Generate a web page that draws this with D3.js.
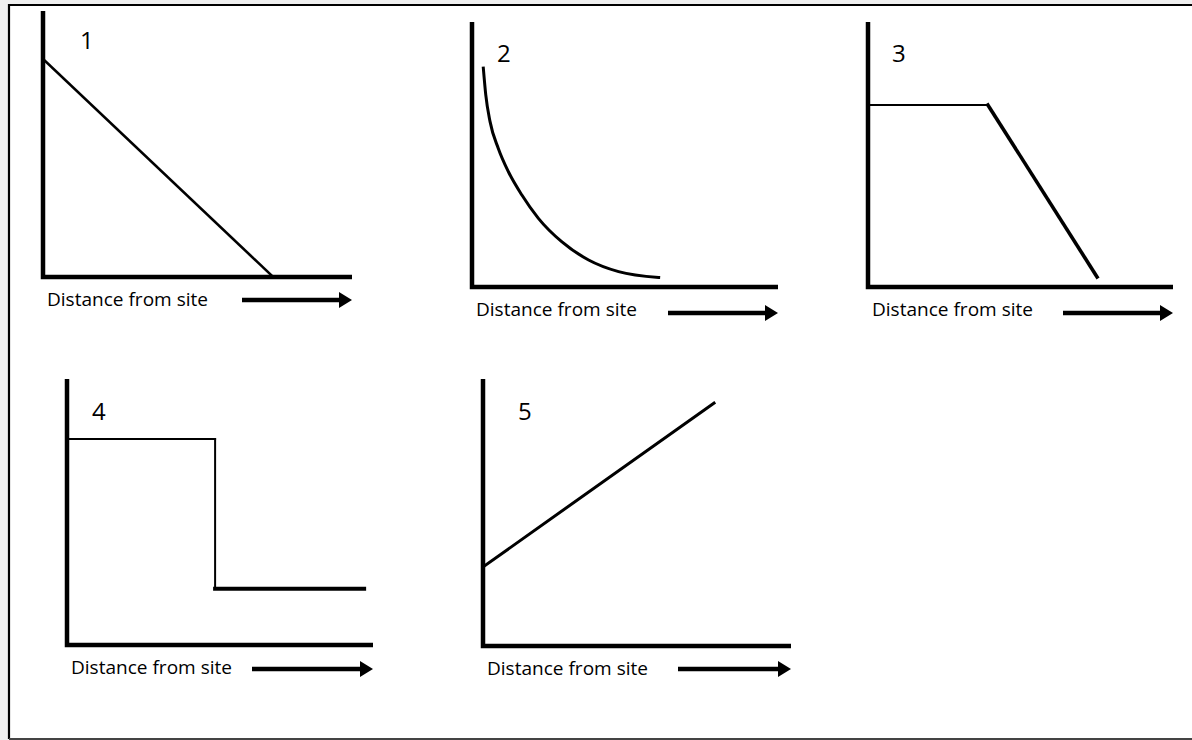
<!DOCTYPE html>
<meta charset="utf-8">
<head>
  <title>Distance from site</title>
  <style>
    body { margin: 0; background: #efefef; }
    svg { display: block; }
    text { font-family: "Open Sans", "Noto Sans", sans-serif; fill: #000; }
  </style>
</head>
<body>
  <svg id="viz" width="1192" height="740"></svg>
  <script src="https://d3js.org/d3.v7.min.js"></script>
  <script>
    // values, each panel on a 0..10 by 0..10 grid
    var labels = ["1", "2", "3", "4", "5"];
    var axisTitle = "Distance from site";

    var series1 = [[0, 8.2], [7.45, 0]];
    var series2 = [[0.37, 8.26], [0.45, 7.25], [0.59, 6.24], [0.86, 5.23], [1.19, 4.35],
                   [1.63, 3.47], [2.17, 2.59], [2.93, 1.71], [3.81, 1.02], [4.79, 0.58], [6.1, 0.36]];
    var series3 = [[0, 6.87], [3.93, 6.87], [7.51, 0.38]];
    var series4 = [[0, 7.74], [4.84, 7.74], [4.84, 2.11], [9.71, 2.11]];
    var series5 = [[0, 2.96], [7.5, 9.1]];

    var allSeries = [series1, series2, series3, series4, series5];

    // where each little chart sits on the page, and how thick each stroke is
    var panels = [
      { x0: 43,  y0: 277, x1: 352,  y1: 11,  lx: 37, ly: 38, ax: 199, ay: 23, widths: [2.6] },
      { x0: 472, y0: 287, x1: 778,  y1: 22,  lx: 25, ly: 40, ax: 196, ay: 26, smooth: true, widths: [3] },
      { x0: 868, y0: 287, x1: 1173, y1: 22,  lx: 24, ly: 40, ax: 195, ay: 26, widths: [2, 3.6] },
      { x0: 67,  y0: 645, x1: 373,  y1: 379, lx: 25, ly: 41, ax: 185, ay: 24, widths: [2, 2, 4] },
      { x0: 483, y0: 646, x1: 791,  y1: 379, lx: 35, ly: 41, ax: 195, ay: 23, widths: [3] }
    ];

    var svg = d3.select("#viz");

    svg.append("defs").append("marker")
      .attr("id", "head")
      .attr("viewBox", "0 0 10 10")
      .attr("preserveAspectRatio", "none")
      .attr("refX", 0).attr("refY", 5)
      .attr("markerUnits", "userSpaceOnUse")
      .attr("markerWidth", 13).attr("markerHeight", 16)
      .attr("orient", "auto")
      .append("path")
      .attr("d", "M0,0L10,5L0,10Z")
      .attr("fill", "#000");

    // the frame
    svg.append("rect")
      .attr("x", 9).attr("y", 5)
      .attr("width", 1192).attr("height", 733)
      .attr("fill", "#fff");
    svg.append("path")
      .attr("d", "M9,739V5H1192")
      .attr("fill", "none")
      .attr("stroke", "#000")
      .attr("stroke-width", 2.2);
    svg.append("line")
      .attr("x1", 9).attr("x2", 1192)
      .attr("y1", 739).attr("y2", 739)
      .attr("stroke", "#444")
      .attr("stroke-width", 2);

    panels.forEach(function (p, i) {
      var x = d3.scaleLinear([0, 10], [p.x0, p.x1]);
      var y = d3.scaleLinear([0, 10], [p.y0, p.y1]);
      var g = svg.append("g");
      var data = allSeries[i];

      // axes as plain thick lines
      g.append("path")
        .attr("d", "M" + x(0) + "," + y(10) + "V" + y(0) + "H" + x(10))
        .attr("fill", "none")
        .attr("stroke", "#000")
        .attr("stroke-width", 4.5);

      var line = d3.line()
        .x(d => x(d[0]))
        .y(d => y(d[1]))
        .curve(p.smooth ? d3.curveMonotoneX : d3.curveLinear);

      // one path per segment so each can keep its own weight
      var parts = p.smooth ? [data] : d3.pairs(data);
      g.selectAll("path.series")
        .data(parts)
        .join("path")
        .attr("class", "series")
        .attr("d", line)
        .attr("fill", "none")
        .attr("stroke", "#000")
        .attr("stroke-width", (d, j) => p.widths[Math.min(j, p.widths.length - 1)])
        .attr("stroke-linecap", "square");

      g.append("text")
        .attr("x", p.x0 + p.lx)
        .attr("y", p.y1 + p.ly)
        .attr("font-size", 24)
        .text(labels[i]);

      g.append("text")
        .attr("x", p.x0 + 4)
        .attr("y", p.y0 + 29)
        .attr("font-size", 18)
        .attr("textLength", 161)
        .attr("lengthAdjust", "spacingAndGlyphs")
        .text(axisTitle);

      g.append("line")
        .attr("x1", p.x0 + p.ax)
        .attr("x2", x(10) - 13)
        .attr("y1", p.y0 + p.ay)
        .attr("y2", p.y0 + p.ay)
        .attr("stroke", "#000")
        .attr("stroke-width", 4.5)
        .attr("marker-end", "url(#head)");
    });
  </script>
</body>
</html>
